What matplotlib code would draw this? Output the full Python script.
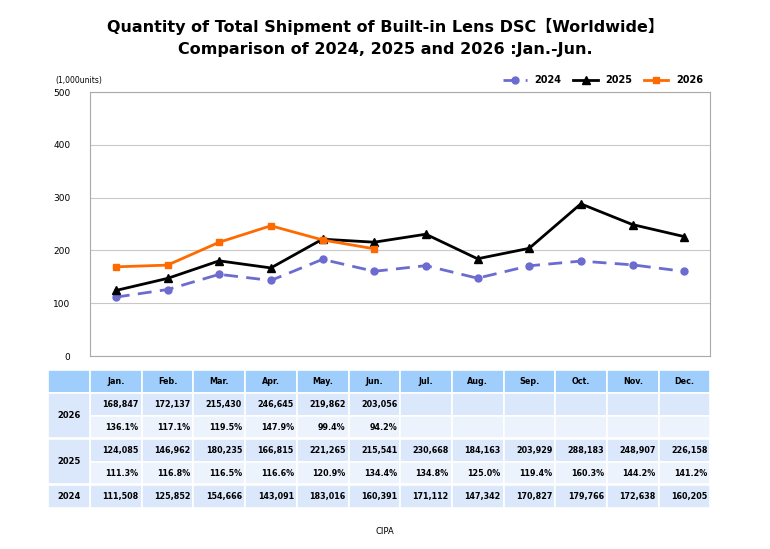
import matplotlib.pyplot as plt
from matplotlib.patches import Rectangle

months = ["Jan.", "Feb.", "Mar.", "Apr.", "May.", "Jun.", "Jul.", "Aug.", "Sep.", "Oct.", "Nov.", "Dec."]
q2024 = [111508, 125852, 154666, 143091, 183016, 160391, 171112, 147342, 170827, 179766, 172638, 160205]
q2025 = [124085, 146962, 180235, 166815, 221265, 215541, 230668, 184163, 203929, 288183, 248907, 226158]
q2026 = [168847, 172137, 215430, 246645, 219862, 203056]
pct2025 = ["111.3%", "116.8%", "116.5%", "116.6%", "120.9%", "134.4%", "134.8%", "125.0%", "119.4%", "160.3%", "144.2%", "141.2%"]
pct2026 = ["136.1%", "117.1%", "119.5%", "147.9%", "99.4%", "94.2%"]

W, H = 770, 549
fig = plt.figure(figsize=(W / 100, H / 100), dpi=100)
plt.rcParams["font.family"] = ["DejaVu Sans"]

fig.text(0.5, 0.952, "Quantity of Total Shipment of Built-in Lens DSC\u3010Worldwide\u3011",
         ha="center", va="center", fontsize=11.5, fontweight="bold",
         family=["DejaVu Sans", "Noto Sans CJK JP"])
fig.text(0.5, 0.91, "Comparison of 2024, 2025 and 2026 :Jan.-Jun.",
         ha="center", va="center", fontsize=11.5, fontweight="bold")

ax = fig.add_axes([90 / W, 1 - 356 / H, 620 / W, 264 / H])
x = list(range(12))
ax.plot(x, [v / 1000 for v in q2024], color="#6b6bd0", ls=(0, (5, 3)), lw=2,
        marker="o", ms=5, label="2024")
ax.plot(x, [v / 1000 for v in q2025], color="black", lw=2, marker="^", ms=5.5, label="2025")
ax.plot(x[:6], [v / 1000 for v in q2026], color="#ff6a00", lw=2, marker="s", ms=5, label="2026")
ax.set_xlim(-0.5, 11.5)
ax.set_ylim(0, 500)
ax.set_yticks(range(0, 501, 100))
ax.set_xticks([])
ax.tick_params(axis="y", labelsize=6.5, length=0, pad=14)
ax.grid(axis="y", color="#c8c8c8", lw=0.8)
for s in ax.spines.values():
    s.set_color("#aaaaaa")
ax.legend(loc="lower right", bbox_to_anchor=(1.0, 1.0), ncol=3, frameon=False,
          handlelength=2.5, columnspacing=1.2, borderpad=0.2,
          prop={"weight": "bold", "size": 7})
fig.text(55 / W, 1 - 80 / H, "(1,000units)", fontsize=5.5, va="center")

# table
tb = fig.add_axes([0, 0, 1, 1])
tb.set_xlim(0, W)
tb.set_ylim(H, 0)
tb.axis("off")
x0, cw0, cw = 48, 42, 51.7
rows = [(370, 393), (393, 416), (416, 438), (439, 462), (462, 484), (485, 508)]
fills = ["#9fcdfc", "#dbe7fb", "#edf3fd", "#dbe7fb", "#edf3fd", "#dbe7fb"]


def cell(xl, w, yt, yb, fc):
    tb.add_patch(Rectangle((xl, yt), w, yb - yt, fc=fc, ec="white", lw=1.2))


for (yt, yb), fc in zip(rows, fills):
    cell(x0, cw0, yt, yb, fc)
    for i in range(12):
        cell(x0 + cw0 + i * cw, cw, yt, yb, fc)
for (yt, yb), yr in [((393, 438), "2026"), ((439, 484), "2025"), ((485, 508), "2024")]:
    cell(x0, cw0, yt, yb, "#dbe7fb")
    tb.text(x0 + cw0 / 2, (yt + yb) / 2, yr, ha="center", va="center", fontsize=6, fontweight="bold")

fs = 5.8
for i, m in enumerate(months):
    xc = x0 + cw0 + i * cw
    tb.text(xc + cw / 2, 381.5, m, ha="center", va="center", fontsize=fs, fontweight="bold")
    xr = xc + cw - 3
    data = [(q2026, 404.5, True), (pct2026, 427, False), (q2025, 450.5, True),
            (pct2025, 473, False), (q2024, 496.5, True)]
    for arr, yc, is_num in data:
        if i < len(arr):
            s = f"{arr[i]:,}" if is_num else arr[i]
            tb.text(xr, yc, s, ha="right", va="center", fontsize=fs, fontweight="bold")

fig.text(0.5, 1 - 531 / H, "CIPA", ha="center", va="center", fontsize=6)
fig.savefig("out.png", dpi=100)
